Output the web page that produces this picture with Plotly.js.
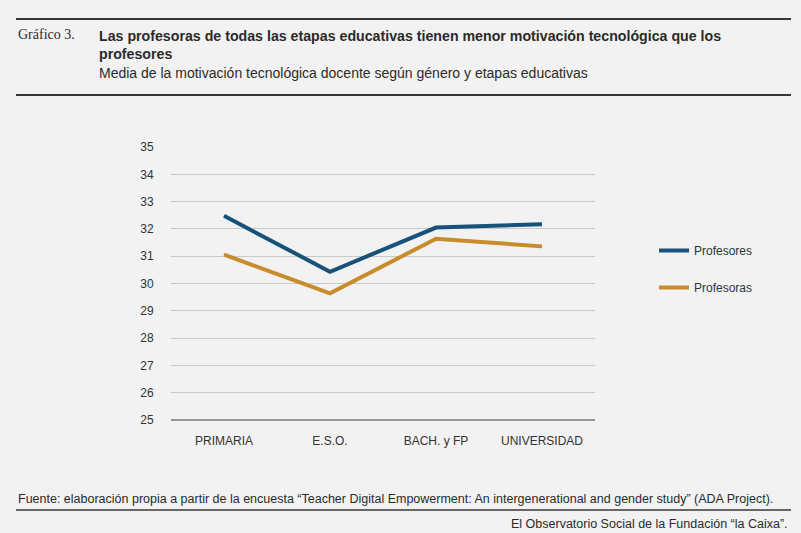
<!DOCTYPE html>
<html>
<head>
<meta charset="utf-8">
<script src="https://cdn.plot.ly/plotly-3.0.1.min.js"></script>
<style>
  html, body { margin:0; padding:0; background:#f2f2f2; }
  #chart { width:801px; height:533px; }
</style>
</head>
<body>
<div id="chart"></div>
<script>
// Motivación tecnológica docente por género y etapa educativa
const etapas = ['PRIMARIA', 'E.S.O.', 'BACH. y FP', 'UNIVERSIDAD'];
const profesores = [32.48, 30.43, 32.05, 32.17];
const profesoras = [31.06, 29.64, 31.64, 31.36];

// plot area in px: x 171..595, y 147..420
const L = 171, R = 595, T = 147, B = 420;
const px = x => (x - L) / (R - L);
const py = y => (B - y) / (B - T);

const FONT = 'Liberation Sans, Arial, sans-serif';

const traces = [
  {
    x: etapas, y: profesores, name: 'Profesores', mode: 'lines',
    line: {color: '#17527b', width: 4}, legendgroup: 'a'
  },
  {
    x: etapas, y: profesoras, name: 'Profesoras', mode: 'lines',
    line: {color: '#c88c2c', width: 4}, legendgroup: 'b'
  }
];

function hline(y, x0, x1, w, color){
  return {type:'line', xref:'paper', yref:'paper',
    x0: px(x0), x1: px(x1), y0: py(y), y1: py(y),
    line:{color: color, width: w}};
}

function label(text, x, y, opts){
  return Object.assign({
    text: text, xref:'paper', yref:'paper', x: px(x), y: py(y),
    xanchor:'left', yanchor:'middle', showarrow:false,
    font:{family: FONT, size: 13, color:'#2b2b2b'}
  }, opts || {});
}

const layout = {
  width: 801, height: 533,
  margin: {l: L, r: 801 - R, t: T, b: 533 - B},
  paper_bgcolor: '#f2f2f2',
  plot_bgcolor: '#f2f2f2',
  font: {family: FONT, size: 12, color: '#333'},
  showlegend: true,
  legend: {
    x: px(654), y: py(236), xanchor:'left', yanchor:'top',
    bgcolor:'rgba(0,0,0,0)', font:{size: 12, color:'#333'},
    traceorder:'grouped', tracegroupgap: 18
  },
  xaxis: {
    type:'category', range:[-0.5, 3.5], showgrid:false, zeroline:false,
    showline:false, ticks:'outside', ticklen: 10, tickcolor:'rgba(0,0,0,0)',
    tickfont:{size: 12, color:'#333'}, fixedrange:true
  },
  yaxis: {
    range:[25, 35], dtick:1, showgrid:true, gridcolor:'#c9c9c9', gridwidth:1,
    zeroline:false, showline:false, ticks:'outside', ticklen: 14, tickcolor:'rgba(0,0,0,0)',
    tickfont:{size: 12, color:'#333'}, fixedrange:true
  },
  shapes: [
    hline(B, L, R, 1.5, '#7b7674'),
    hline(19, 16, 791, 2, '#3a3633'),
    hline(95, 16, 791, 2, '#3a3633'),
    hline(510, 16, 791, 1.5, '#3a3633')
  ],
  annotations: [
    label('Gráfico 3.', 16, 35, {font:{family:'Liberation Serif, serif', size:14, color:'#2b2b2b'}}),
    label('<b>Las profesoras de todas las etapas educativas tienen menor motivación tecnológica que los<br>profesores</b>',
      97, 44.5, {yanchor:'middle', align:'left', font:{family: FONT, size: 14.2, color:'#2b2b2b'}}),
    label('Media de la motivación tecnológica docente según género y etapas educativas', 97, 73,
      {font:{family: FONT, size: 14, color:'#2b2b2b'}}),
    label('Fuente: elaboración propia a partir de la encuesta “Teacher Digital Empowerment: An intergenerational and gender study” (ADA Project).',
      16, 499, {font:{family: FONT, size: 12.5, color:'#2b2b2b'}}),
    label('El Observatorio Social de la Fundación “la Caixa”.', 790, 524,
      {xanchor:'right', font:{family: FONT, size: 12.5, color:'#2b2b2b'}})
  ]
};

Plotly.newPlot('chart', traces, layout, {displayModeBar:false, staticPlot:true});
</script>
</body>
</html>
